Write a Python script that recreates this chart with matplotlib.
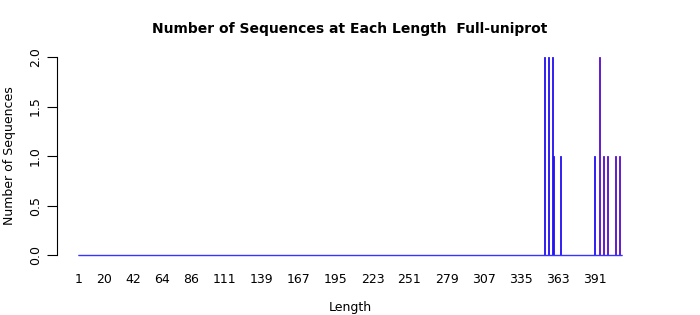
import numpy as np
import matplotlib
matplotlib.use("Agg")
import matplotlib.pyplot as plt

# --- data ---
lengths = np.arange(1, 412)
nonzero_lengths = [353, 356, 359, 360, 365, 391, 395, 398, 401, 407, 410]
nonzero_counts  = [2,   2,   2,   1,   1,   1,   2,   1,   1,   1,   1]
tick_labels = [1, 20, 42, 64, 86, 111, 139, 167, 195, 223, 251, 279, 307, 335, 363, 391]
y_ticks = [0.0, 0.5, 1.0, 1.5, 2.0]

counts = np.zeros(len(lengths))
for L, c in zip(nonzero_lengths, nonzero_counts):
    counts[L - 1] = c

# colours: blue for the first bars, purple toward the long end
blue, purple = "#2411f2", "#5a0ccc"
colors = [purple if L > 392 else blue for L in lengths]

W, H = 700, 315
fig = plt.figure(figsize=(7, 3.15), dpi=100)
ax = fig.add_axes([57 / W, 60 / H, 586 / W, 198 / H])

ax.bar(lengths, counts, width=0.83, color=colors, edgecolor=colors,
       linewidth=0.6, clip_on=False)
# zero-height bars show as a continuous border line along the base
ax.hlines(0, lengths.min() - 0.5, lengths.max() + 0.5, color="#3535ff",
          linewidth=1.0, clip_on=False, zorder=3)

# x scale: length 1 at px 79, length 411 at px 621
slope = (621 - 79) / 410
ax.set_xlim(1 - 22 / slope, 411 + (643 - 621) / slope)
ax.set_ylim(0, 2)

for s in ["top", "right", "bottom"]:
    ax.spines[s].set_visible(False)
ax.spines["left"].set_linewidth(0.8)

ax.set_yticks(y_ticks)
ax.set_yticklabels([f"{v:.1f}" for v in y_ticks], rotation=90, va="center",
                   fontsize=9)
ax.tick_params(axis="y", length=7, width=0.8, pad=4)

ax.set_xticks(tick_labels)
ax.set_xticklabels([str(t) for t in tick_labels], fontsize=9)
ax.tick_params(axis="x", length=0, pad=13)

ax.set_ylabel("Number of Sequences", fontsize=9, labelpad=9)
fig.text(350 / W, 1 - 307 / H, "Length", ha="center", va="center", fontsize=9)
fig.text(350 / W, 1 - 29 / H, "Number of Sequences at Each Length  Full-uniprot",
         ha="center", va="center", fontsize=10, fontweight="bold")

fig.savefig("out.png", dpi=100)
